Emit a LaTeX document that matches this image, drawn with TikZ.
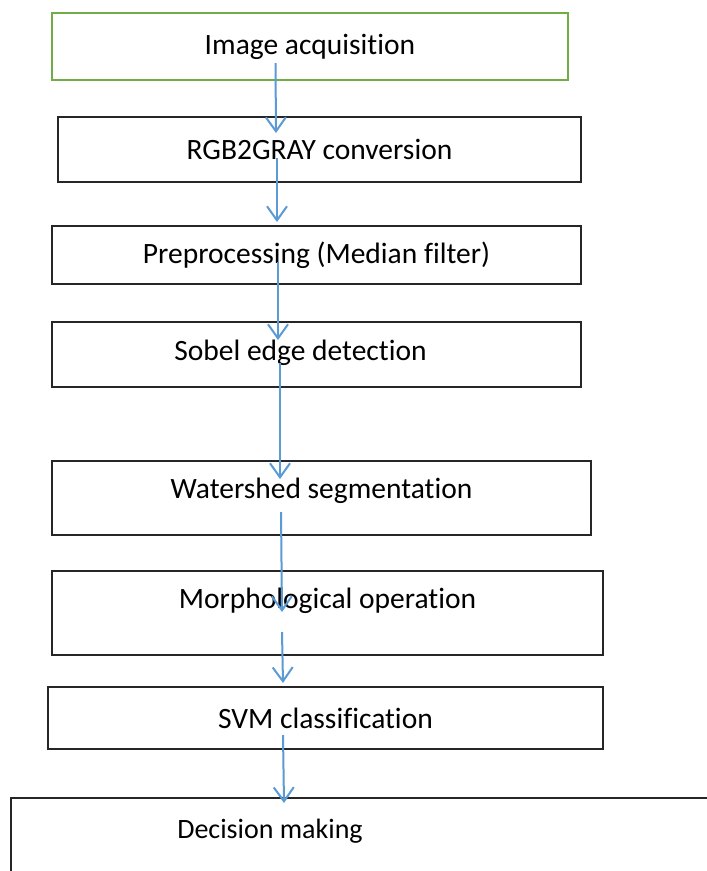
\documentclass[tikz,border=0pt]{standalone}
\usepackage{fontspec}
\setmainfont{Carlito}[Ligatures=NoCommon]
\usetikzlibrary{arrows.meta}
\definecolor{flowblue}{HTML}{5B9BD5}
\definecolor{boxgreen}{HTML}{70AD47}

\begin{document}
\begin{tikzpicture}[x=1pt,y=-1pt,font=\fontsize{29.5}{34}\selectfont]
\clip (0,0) rectangle (707,871);
\fill[white] (0,0) rectangle (707,871);
\tikzstyle{stage}=[draw=black!85,
                   line width=1.3pt,
                   rectangle,
                   inner sep=0pt
                   ]
\tikzstyle{flow}=[draw=flowblue, line width=2pt, -{Straight Barb[length=14pt,width=20pt]}]
% the stages
\node[stage, draw=boxgreen, line width=2pt, minimum width=516pt, minimum height=67pt] (acq) at (310,46.5) {Image acquisition};
\node[stage, minimum width=523pt, minimum height=65pt] (rgb) at (319.5,149.5) {RGB2GRAY conversion};
\node[stage, minimum width=529pt, minimum height=58pt] (pre) at (316.5,255) {Preprocessing (Median filter)};
\node[stage, minimum width=529pt, minimum height=65pt, label={[xshift=-16pt,yshift=2pt]center:Sobel edge detection}] (sobel) at (316.5,354.5) {};
\node[stage, minimum width=539pt, minimum height=74pt, label={[yshift=7pt]center:Watershed segmentation}] (water) at (321.5,498) {};
\node[stage, minimum width=551pt, minimum height=84pt, label={[yshift=12pt]center:Morphological operation}] (morph) at (327.5,613) {};
\node[stage, minimum width=555pt, minimum height=62pt] (svm) at (325.5,718) {SVM classification};
\node[stage, minimum width=719pt, minimum height=102pt, label={[xshift=-100.5pt,yshift=18pt,font=\fontsize{28}{32}\selectfont]center:Decision making}] (dec) at (370.5,849) {};
% arrow ends
\coordinate (acq out) at (275.5,63);
\coordinate (rgb in) at (276,133);
\coordinate (rgb out) at (277,158);
\coordinate (pre in) at (277,222);
\coordinate (pre out) at (278,262);
\coordinate (sobel in) at (278,340);
\coordinate (sobel out) at (280,363);
\coordinate (water in) at (280,479);
\coordinate (water out) at (281,512);
\coordinate (morph in) at (282,612);
\coordinate (morph out) at (282,632);
\coordinate (svm in) at (283,683);
\coordinate (svm out) at (283,735);
\coordinate (dec in) at (284,803);
% arrows
\draw[flow] (acq out) -- (rgb in);
\draw[flow] (rgb out) -- (pre in);
\draw[flow] (pre out) -- (sobel in);
\draw[flow] (sobel out) -- (water in);
\draw[flow] (water out) -- (morph in);
\draw[flow] (morph out) -- (svm in);
\draw[flow] (svm out) -- (dec in);
\end{tikzpicture}
\end{document}
